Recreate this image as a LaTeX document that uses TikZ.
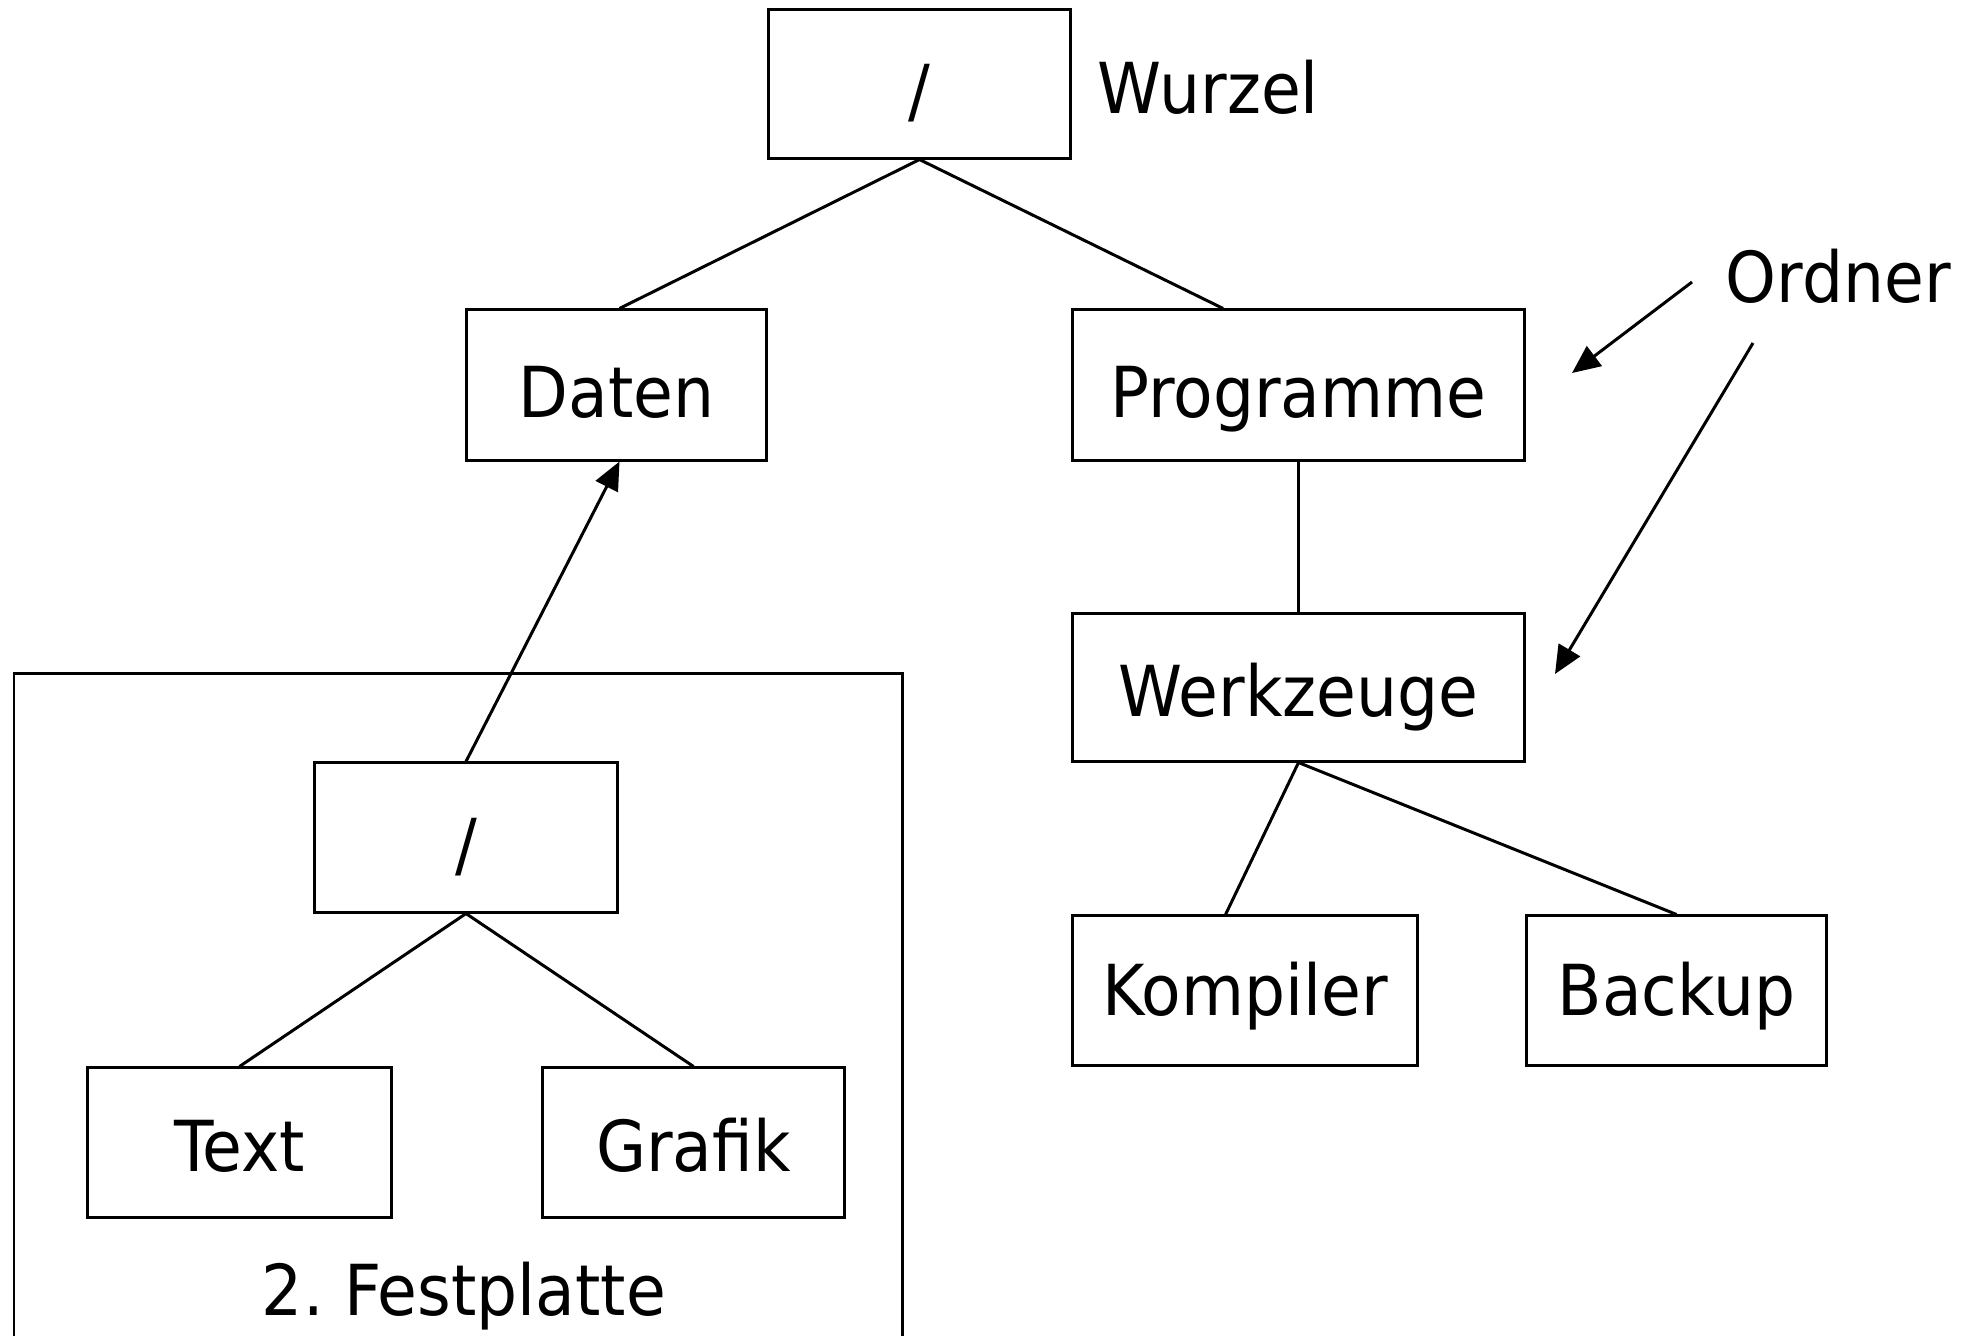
\documentclass[tikz,border=0pt]{standalone}
\usepackage{fontspec}
\setmainfont{DejaVu Sans}[FakeStretch=0.92]
\usetikzlibrary{arrows.meta,calc}
\frenchspacing
\begin{document}
\begin{tikzpicture}[x=0.01cm,y=-0.01cm,
  lbl/.style={font=\fontsize{20pt}{24pt}\selectfont, inner sep=0pt},
  fbox/.style={draw, line width=0.85pt, inner sep=0pt,
    font=\fontsize{20pt}{24pt}\selectfont,
    text height=0.74cm, text depth=0.10cm, minimum height=1.49cm},
  lowtext/.style={text depth=0.17cm},
  lowertext/.style={text depth=0.25cm},
  edge/.style={line width=0.85pt},
  arr/.style={line width=0.85pt, -{Triangle[length=8pt,width=7pt]}}]
\useasboundingbox (0,0) rectangle (1970,1336);
% frame of the second disk
\draw[line width=0.85pt] (14,1336) -- (14,673) -- (902,673) -- (902,1336);
% folders
\node[fbox, minimum width=3.01cm, minimum height=1.48cm, text depth=0.12cm] (root) at (919.5,84) {/};
\node[fbox, minimum width=2.99cm, minimum height=1.50cm] (daten) at (616.5,385) {Daten};
\node[fbox, minimum width=4.51cm, minimum height=1.50cm] (prog) at (1298.5,385) {Programme};
\node[fbox, lowtext, minimum width=4.51cm, minimum height=1.47cm] (werk) at (1298.5,687.5) {Werkzeuge};
\node[fbox, lowertext, minimum width=3.44cm] (komp) at (1245,990.5) {Kompiler};
\node[fbox, lowertext, minimum width=2.99cm] (backup) at (1676.5,990.5) {Backup};
\node[fbox, minimum width=3.02cm] (disk) at (466,837.5) {/};
\node[fbox, lowtext, minimum width=3.03cm] (text) at (239.5,1142.5) {Text};
\node[fbox, lowtext, minimum width=3.01cm] (grafik) at (693.5,1142.5) {Grafik};
% labels
\node[lbl, anchor=base west] (wurzel) at (1097,113) {Wurzel};
\node[lbl, anchor=base west] (ordner) at (1725,302) {Ordner};
\node[lbl, anchor=base] (fest) at (464,1315) {2. Festplatte};
% tree edges
\draw[edge] (root.south) -- ($(daten.north)+(3,0)$);
\draw[edge] (root.south) -- ($(prog.north west)!0.334!(prog.north east)$);
\draw[edge] (prog.south) -- (werk.north);
\draw[edge] (werk.south) -- ($(komp.north west)!0.444!(komp.north east)$);
\draw[edge] (werk.south) -- (backup.north);
\draw[edge] (disk.south) -- (text.north);
\draw[edge] (disk.south) -- (grafik.north);
\draw[arr] (disk.north) -- ($(daten.south)+(3,0)$);
% pointers from "Ordner"
\coordinate (o1s) at (1692,282);
\coordinate (o1e) at (1572,373);
\coordinate (o2s) at (1753,343);
\coordinate (o2e) at (1555,674);
\draw[arr] (o1s) -- (o1e);
\draw[arr] (o2s) -- (o2e);
\end{tikzpicture}
\end{document}
